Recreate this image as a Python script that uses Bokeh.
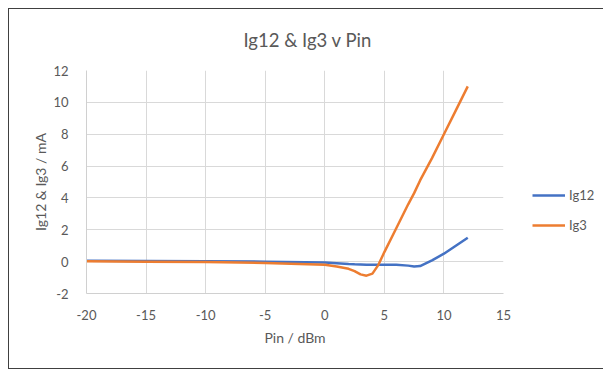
from bokeh.plotting import figure
from bokeh.models import Range1d, FixedTicker, Legend, LegendItem, Title
from bokeh.embed import file_html
from bokeh.resources import INLINE

pin = [-20, -15, -10, -5, 0, 1, 2, 2.5, 3, 3.5, 4, 4.5, 5, 6, 7, 7.5, 8, 9, 10, 11, 12]
ig12 = [0.05, 0.04, 0.03, 0.0, -0.05, -0.1, -0.15, -0.17, -0.18, -0.2, -0.2, -0.2, -0.2, -0.2, -0.25, -0.3, -0.28, 0.08, 0.5, 1.0, 1.5]
ig3 = [0.02, 0.0, -0.02, -0.08, -0.2, -0.3, -0.45, -0.6, -0.8, -0.88, -0.75, -0.2, 0.6, 2.1, 3.6, 4.3, 5.1, 6.5, 8.0, 9.5, 11.0]
x_ticks = [-20, -15, -10, -5, 0, 5, 10, 15]
y_ticks = [-2, 0, 2, 4, 6, 8, 10, 12]

FONT = "Lato"
GRAY = "#595959"

p = figure(frame_width=417, frame_height=223, output_backend="svg", toolbar_location=None,
           x_range=Range1d(-20, 15), y_range=Range1d(-2, 12),
           min_border_left=77, min_border_right=101, min_border_top=61, min_border_bottom=75)
p.styles = {"border": "1.5px solid #404040", "margin-left": "8px", "margin-top": "8px"}
p.outline_line_color = None
p.background_fill_color = "white"

t = Title(text="Ig12 & Ig3 v Pin", align="left", text_font=FONT, text_font_size="18.5px",
          text_font_style="normal", text_color=GRAY, offset=157, standoff=36,
          vertical_align="top")
p.add_layout(t, "above")

p.xaxis.ticker = FixedTicker(ticks=x_ticks)
p.yaxis.ticker = FixedTicker(ticks=y_ticks)
p.xaxis.major_label_overrides = {v: str(v) for v in x_ticks}
p.yaxis.major_label_overrides = {v: str(v) for v in y_ticks}
for ax in (p.xaxis, p.yaxis):
    ax.axis_line_color = "#d0d0d0"
    ax.major_tick_line_color = None
    ax.minor_tick_line_color = None
    ax.major_label_text_font = FONT
    ax.major_label_text_font_size = "13px"
    ax.major_label_text_color = GRAY
    ax.axis_label_text_font = FONT
    ax.axis_label_text_font_size = "14px"
    ax.axis_label_text_font_style = "normal"
    ax.axis_label_text_color = GRAY
p.xaxis.axis_label = "Pin / dBm"
p.yaxis.axis_label = "Ig12 & Ig3 / mA"
p.xaxis.major_label_standoff = 10
p.yaxis.major_label_standoff = 12
p.xaxis.axis_label_standoff = 6
p.yaxis.axis_label_standoff = 1

p.grid.grid_line_color = "#d9d9d9"
p.grid.grid_line_width = 1
p.xgrid.ticker = FixedTicker(ticks=x_ticks)
p.ygrid.ticker = FixedTicker(ticks=y_ticks)

r1 = p.line(pin, ig12, line_color="#4472C4", line_width=2.5)
r2 = p.line(pin, ig3, line_color="#ED7D31", line_width=2.5)

legend = Legend(items=[LegendItem(label="Ig12", renderers=[r1]),
                       LegendItem(label="Ig3", renderers=[r2])],
                location=(29, 58), background_fill_alpha=0, border_line_color=None,
                label_text_font=FONT, label_text_font_size="13px", label_text_color=GRAY,
                glyph_width=33, label_standoff=4, spacing=10, padding=4)
p.add_layout(legend, "right")

open("out.html", "w").write(file_html(p, INLINE))
